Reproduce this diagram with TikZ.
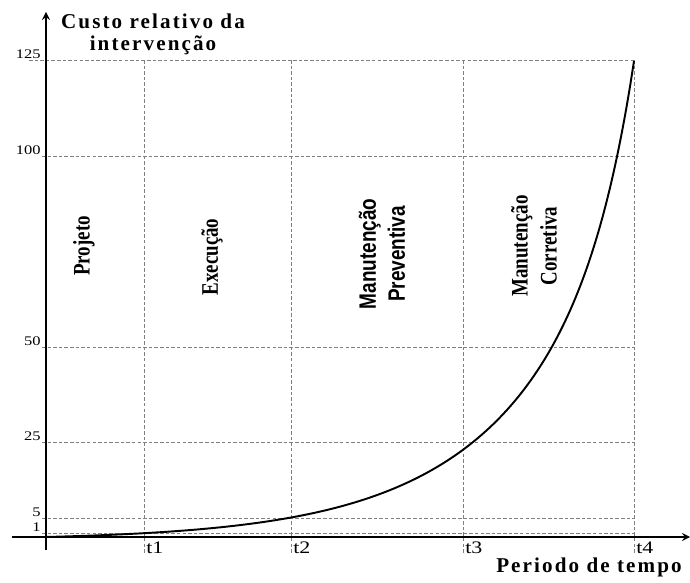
\documentclass[tikz,border=0pt]{standalone}
\usepackage{fontspec}
\setmainfont{Liberation Serif}
\newfontfamily\titlefont[LetterSpace=10]{Liberation Serif}
\newfontfamily\phaseserif[FakeStretch=0.8]{Liberation Serif}
\newfontfamily\phasesans[FakeStretch=0.8]{Liberation Sans}
\newfontfamily\numfont[FakeStretch=1.25]{Liberation Serif}
\usepackage{tikz}
\tikzstyle{axis_arrow} = [line width=1pt,->,>=stealth]
\tikzstyle{grid_line} = [gray, line width=0.5pt, dash pattern=on 2pt off 1.2pt]
\tikzstyle{tick_label} = [anchor=south east, inner sep=0pt, font=\numfont\fontsize{7.5}{8}\selectfont]
\tikzstyle{time_label} = [anchor=north west, inner sep=0pt, font=\numfont\fontsize{10}{11}\selectfont]
\tikzstyle{phase_serif} = [rotate=90, align=center, font=\phaseserif\bfseries\fontsize{13.5}{16.5}\selectfont]
\tikzstyle{phase_sans} = [rotate=90, align=center, font=\phasesans\bfseries\fontsize{13.5}{16.5}\selectfont]
\tikzstyle{axis_title} = [align=center, inner sep=0pt, font=\titlefont\bfseries\fontsize{12}{12.5}\selectfont]

\begin{document}
\begin{tikzpicture}[x=0.02cm, y=0.02cm]
        \useasboundingbox (-46,-45) rectangle (644,537);

        \foreach \val/\h/\s in {125/477/-17,100/381/-4,50/190/-4,25/95/-4,5/19/-4,1/4/-4} {
                \draw[grid_line] (\s,\h) -- (588,\h);
                \node[tick_label] (v\val) at (-5,\h+1.5) {\val};
        }
        \foreach \i/\x in {1/98,2/245,3/417,4/588} {
                \draw[grid_line] (\x,477) -- (\x,-17);
                \node[time_label] (t\i) at (\x+2,-5) {t\i};
        }

        \coordinate (x_start) at (-34,0);
        \coordinate (x_tip) at (644,0);
        \coordinate (y_start) at (0,-13);
        \coordinate (y_tip) at (0,525);
        \draw[axis_arrow] (x_start) -- (x_tip);
        \draw[axis_arrow] (y_start) -- (y_tip);

        \draw[line width=1.1pt] plot[domain=0:588, samples=150, smooth] (\x, {3.196*(exp(0.008*\x)-1) + 127.3*exp(max(0.03*(\x-588),-9))});

        \node[axis_title] (y_title) at (107,503) {Custo relativo da\\intervenção};
        \node[axis_title, anchor=base] (x_title) at (543,-35) {Periodo de tempo};

        \node[phase_serif] (projeto) at (38,291) {Projeto};
        \node[phase_serif] (execucao) at (166,280) {Execução};
        \node[phase_sans] (preventiva) at (336,283) {Manutenção\\Preventiva};
        \node[phase_serif] (corretiva) at (488,291) {Manutenção\\Corretiva};
\end{tikzpicture}
\end{document}
